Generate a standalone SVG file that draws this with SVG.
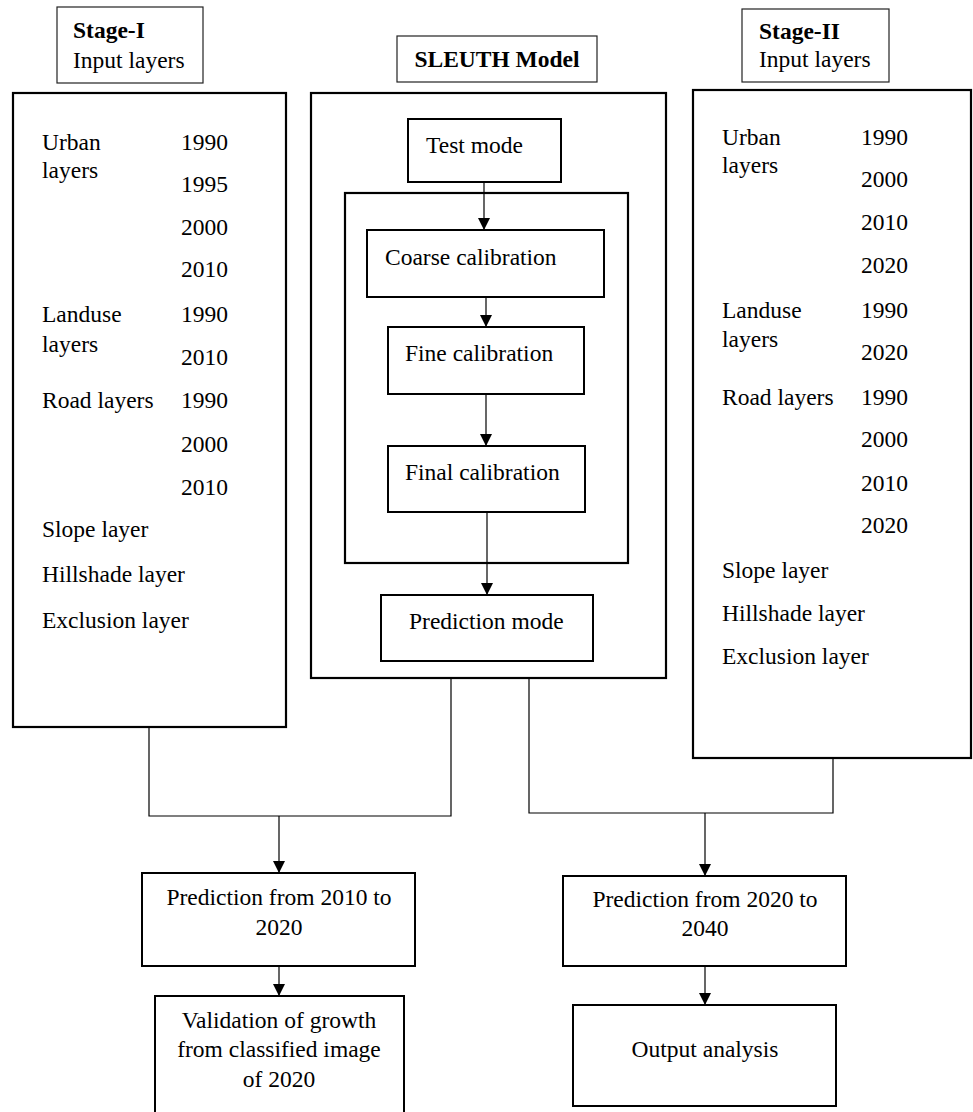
<svg xmlns="http://www.w3.org/2000/svg" width="973" height="1112" viewBox="0 0 973 1112">
<style>
text{font-family:"Liberation Serif","Times New Roman",serif;font-size:23.5px;fill:#000}
.b{font-weight:bold}
.c{text-anchor:middle}
.hdr{fill:#fff;stroke:#222;stroke-width:1.2}
.panel{fill:#fff;stroke:#000;stroke-width:2.2}
.box{fill:#fff;stroke:#000;stroke-width:2}
.con{fill:none;stroke:#000;stroke-width:1.2}
</style>
<defs>
<marker id="ah" markerUnits="userSpaceOnUse" markerWidth="12" markerHeight="12" refX="12" refY="6" orient="auto">
<path d="M0,0 L12,6 L0,12 z" fill="#000"/>
</marker>
</defs>
<rect width="973" height="1112" fill="#fff"/>

<g id="stage1-header">
<rect class="hdr" x="57" y="7" width="146" height="76"/>
<text class="b" x="73" y="38">Stage-I</text>
<text x="73" y="68">Input layers</text>
</g>

<g id="stage1-panel">
<rect class="panel" x="13" y="93" width="273" height="634"/>
<text x="42" y="150">Urban</text>
<text x="181" y="150">1990</text>
<text x="42" y="178">layers</text>
<text x="181" y="192">1995</text>
<text x="181" y="235">2000</text>
<text x="181" y="277">2010</text>
<text x="42" y="322">Landuse</text>
<text x="181" y="322">1990</text>
<text x="42" y="352">layers</text>
<text x="181" y="365">2010</text>
<text x="42" y="408">Road layers</text>
<text x="181" y="408">1990</text>
<text x="181" y="452">2000</text>
<text x="181" y="495">2010</text>
<text x="42" y="537">Slope layer</text>
<text x="42" y="582">Hillshade layer</text>
<text x="42" y="628">Exclusion layer</text>
</g>

<g id="sleuth-header">
<rect class="hdr" x="397" y="36" width="200" height="46"/>
<text class="b c" x="497" y="67">SLEUTH Model</text>
</g>

<g id="sleuth-panel">
<rect class="panel" x="311" y="93" width="355" height="585"/>
</g>

<g id="calibration-frame">
<rect class="panel" x="345" y="193" width="283" height="370"/>
</g>

<g id="test-mode">
<rect class="box" x="408" y="119" width="153" height="63"/>
<text x="426" y="153">Test mode</text>
</g>

<g id="coarse-calibration">
<rect class="box" x="367" y="230" width="237" height="67"/>
<text x="385" y="265">Coarse calibration</text>
</g>

<g id="fine-calibration">
<rect class="box" x="388" y="327" width="196" height="67"/>
<text x="405" y="361">Fine calibration</text>
</g>

<g id="final-calibration">
<rect class="box" x="388" y="446" width="197" height="66"/>
<text x="405" y="480">Final calibration</text>
</g>

<g id="prediction-mode">
<rect class="box" x="381" y="595" width="212" height="66"/>
<text x="409" y="629">Prediction mode</text>
</g>

<g id="stage2-header">
<rect class="hdr" x="742" y="9" width="147" height="73"/>
<text class="b" x="759" y="39">Stage-II</text>
<text x="759" y="67">Input layers</text>
</g>

<g id="stage2-panel">
<rect class="panel" x="693" y="90" width="278" height="668"/>
<text x="722" y="145">Urban</text>
<text x="861" y="145">1990</text>
<text x="722" y="173">layers</text>
<text x="861" y="187">2000</text>
<text x="861" y="230">2010</text>
<text x="861" y="273">2020</text>
<text x="722" y="318">Landuse</text>
<text x="861" y="318">1990</text>
<text x="722" y="347">layers</text>
<text x="861" y="360">2020</text>
<text x="722" y="405">Road layers</text>
<text x="861" y="405">1990</text>
<text x="861" y="447">2000</text>
<text x="861" y="491">2010</text>
<text x="861" y="533">2020</text>
<text x="722" y="578">Slope layer</text>
<text x="722" y="621">Hillshade layer</text>
<text x="722" y="664">Exclusion layer</text>
</g>

<g id="pred-2010-2020">
<rect class="box" x="142" y="873" width="273" height="93"/>
<text class="c" x="279" y="905">Prediction from 2010 to</text>
<text class="c" x="279" y="935">2020</text>
</g>

<g id="validation">
<rect class="box" x="155" y="996" width="249" height="125"/>
<text class="c" x="279" y="1028">Validation of growth</text>
<text class="c" x="279" y="1057">from classified image</text>
<text class="c" x="279" y="1087">of 2020</text>
</g>

<g id="pred-2020-2040">
<rect class="box" x="563" y="876" width="283" height="90"/>
<text class="c" x="705" y="907">Prediction from 2020 to</text>
<text class="c" x="705" y="936">2040</text>
</g>

<g id="output-analysis">
<rect class="box" x="573" y="1005" width="263" height="101"/>
<text class="c" x="705" y="1057">Output analysis</text>
</g>

<g id="connectors">
<line class="con" x1="484" y1="182" x2="484" y2="230" marker-end="url(#ah)"/>
<line class="con" x1="486" y1="297" x2="486" y2="327" marker-end="url(#ah)"/>
<line class="con" x1="486" y1="394" x2="486" y2="446" marker-end="url(#ah)"/>
<line class="con" x1="487" y1="512" x2="487" y2="595" marker-end="url(#ah)"/>
<polyline class="con" points="149,727 149,816 451,816 451,678"/>
<line class="con" x1="279" y1="816" x2="279" y2="873" marker-end="url(#ah)"/>
<polyline class="con" points="529,678 529,813 833,813 833,758"/>
<line class="con" x1="705" y1="813" x2="705" y2="876" marker-end="url(#ah)"/>
<line class="con" x1="279" y1="966" x2="279" y2="996" marker-end="url(#ah)"/>
<line class="con" x1="705" y1="966" x2="705" y2="1005" marker-end="url(#ah)"/>
</g>
</svg>
